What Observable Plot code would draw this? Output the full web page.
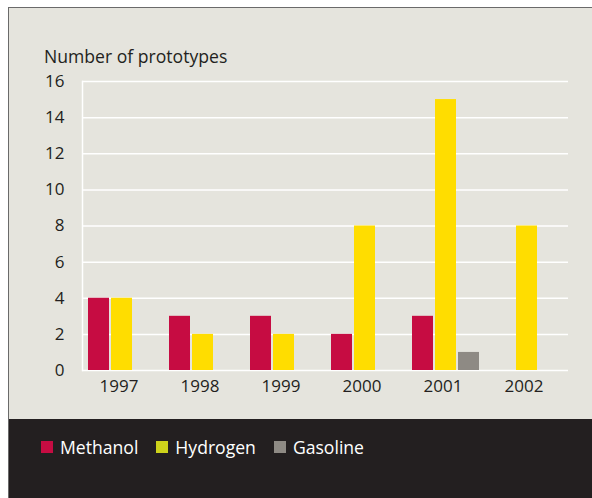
<!DOCTYPE html>
<html><head><meta charset="utf-8">
<script src="https://cdn.jsdelivr.net/npm/d3@7"></script>
<script src="https://cdn.jsdelivr.net/npm/@observablehq/plot@0.6"></script>
<style>
html,body{margin:0;padding:0;background:#fff;}
#wrap{position:relative;width:592px;height:498px;overflow:hidden;font-family:"Open Sans",sans-serif;}
#panel{position:absolute;left:8px;top:7px;right:0;bottom:0;background:#e5e4dd;border-left:1px solid #6a6a6a;border-top:1px solid #6a6a6a;}
#title{position:absolute;left:44px;top:44px;font-size:17.6px;color:#231f20;}
#chart{position:absolute;left:0;top:0;}
#band{position:absolute;left:9px;top:419px;right:0;bottom:0;background:#231f20;}
#legend{position:absolute;left:41px;top:435px;display:flex;align-items:center;font-size:17.6px;color:#fff;}
.item{display:flex;align-items:center;margin-right:18px;}
.sw{width:12px;height:12px;margin-right:7px;}
</style></head>
<body>
<div id="wrap">
  <div id="panel"></div>
  <div id="title">Number of prototypes</div>
  <div id="chart"></div>
  <div id="band"></div>
  <div id="legend"></div>
</div>
<script>
const years = ["1997", "1998", "1999", "2000", "2001", "2002"];
const fuels = ["Methanol", "Hydrogen", "Gasoline"];
const methanol = [4, 3, 3, 2, 3, 0];
const hydrogen = [4, 2, 2, 8, 15, 8];
const gasoline = [0, 0, 0, 0, 1, 0];
const yTicks = [0, 2, 4, 6, 8, 10, 12, 14, 16];
const barColors = ["#c60c42", "#ffdd00", "#8e8a84"];
const legendColors = ["#c60c42", "#cdd21b", "#8e8a84"];

const series = [methanol, hydrogen, gasoline];
const data = [];
years.forEach((yr, i) => fuels.forEach((f, j) => {
  if (series[j][i] > 0) data.push({year: yr, fuel: f, value: series[j][i]});
}));

const chart = Plot.plot({
  width: 592, height: 419,
  marginLeft: 81, marginRight: 24, marginTop: 81, marginBottom: 49,
  style: {background: "transparent", fontFamily: "Open Sans, sans-serif", fontSize: "17px", color: "#231f20"},
  fx: {domain: years, paddingInner: 0, paddingOuter: 0, label: null},
  x: {domain: fuels, paddingInner: 0.09, paddingOuter: 0.3, align: 0.4, axis: null},
  y: {domain: [0, 16], axis: null},
  color: {domain: fuels, range: barColors},
  marks: [
    Plot.ruleY(yTicks, {stroke: "white", strokeWidth: 1.5}),
    Plot.frame({anchor: "left", facet: "super", stroke: "white", strokeWidth: 1.5}),
    Plot.axisY({ticks: yTicks, tickSize: 0, tickPadding: 18, label: null, fontSize: 17, fill: "#231f20"}),
    Plot.barY(data, {fx: "year", x: "fuel", y: "value", fill: "fuel"}),
    Plot.axisFx({anchor: "bottom", tickSize: 0, tickPadding: 9, label: null, fontSize: 17, fill: "#231f20", dx: -4})
  ]
});
document.getElementById("chart").appendChild(chart);

const legend = document.getElementById("legend");
fuels.forEach((f, i) => {
  const it = document.createElement("div");
  it.className = "item";
  it.innerHTML = `<span class="sw" style="background:${legendColors[i]}"></span><span>${f}</span>`;
  legend.appendChild(it);
});
</script>
</body></html>
